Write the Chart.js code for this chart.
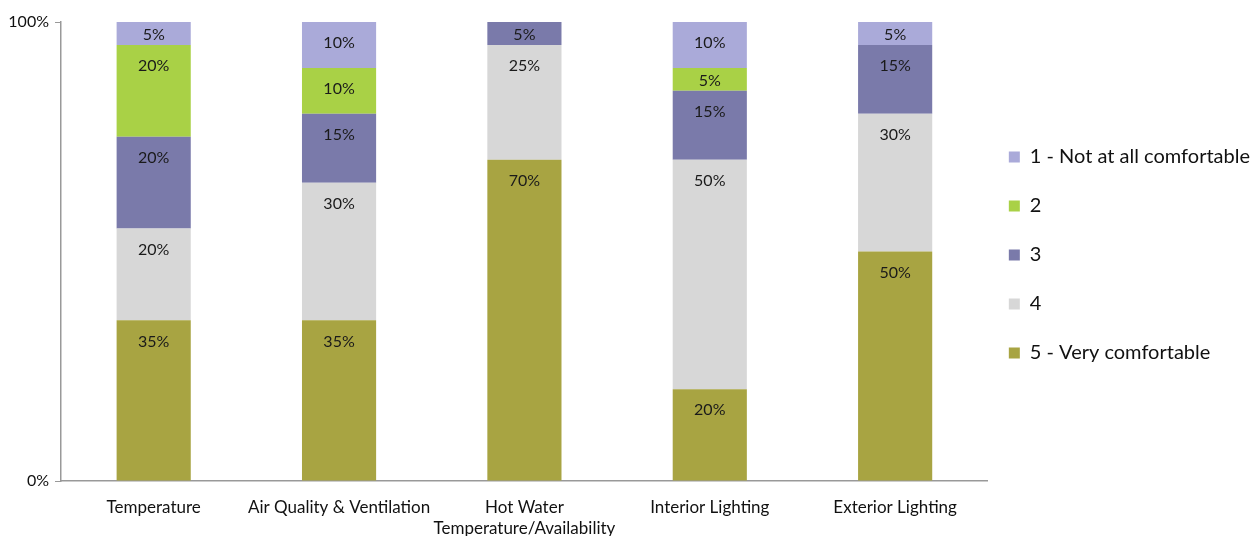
<!DOCTYPE html>
<html>
<head>
<meta charset="utf-8">
<script src="https://cdn.jsdelivr.net/npm/chart.js@4"></script>
<style>
  html, body { margin: 0; padding: 0; background: #fff; }
  #wrap { width: 1255px; height: 536px; }
</style>
</head>
<body>
<div id="wrap"><canvas id="chart" width="1255" height="536"></canvas></div>
<script>
// Chart data
const categories = ["Temperature", "Air Quality & Ventilation", ["Hot Water", "Temperature/Availability"], "Interior Lighting", "Exterior Lighting"];
const seriesNames = ["5 - Very comfortable", "4", "3", "2", "1 - Not at all comfortable"];
const very = [35, 35, 70, 20, 50];
const four = [20, 30, 25, 50, 30];
const three = [20, 15, 5, 15, 15];
const two = [20, 10, 0, 5, 0];
const notAtAll = [5, 10, 0, 10, 5];
const yTicks = [0, 100];

const colors = ["#a8a442", "#d7d7d7", "#7a7aaa", "#a9d146", "#aaaad9"];
const fontFamily = "Lato, 'Open Sans', sans-serif";

// Value labels drawn near the top of each segment
const segLabels = {
    id: "segLabels",
    afterDatasetsDraw(chart) {
        const ctx = chart.ctx;
        ctx.save();
        ctx.font = "16px " + fontFamily;
        ctx.fillStyle = "#1a1a1a";
        ctx.textAlign = "center";
        ctx.textBaseline = "middle";
        chart.data.datasets.forEach((ds, di) => {
            const meta = chart.getDatasetMeta(di);
            meta.data.forEach((bar, i) => {
                const v = ds.data[i];
                if (!v) return;
                const top = Math.min(bar.y, bar.base);
                const h = Math.abs(bar.base - bar.y);
                const y = Math.min(top + 21, top + h / 2 + 1);
                ctx.fillText(v + "%", bar.x, y);
            });
        });
        ctx.restore();
    }
};

// nudge the legend block up and left a bit
const legendShift = {
    id: "legendShift",
    afterLayout(chart) {
        const lg = chart.legend;
        lg.bottom -= 48;
        lg.left -= 8;
        lg.right -= 8;
    }
};

const ctx = document.getElementById("chart").getContext("2d");
const seriesData = [very, four, three, two, notAtAll];

new Chart(ctx, {
    type: "bar",
    data: {
        labels: categories,
        datasets: seriesData.map((d, i) => ({
            label: seriesNames[i],
            data: d,
            backgroundColor: colors[i],
            borderWidth: 0,
            categoryPercentage: 1,
            barPercentage: 0.4
        }))
    },
    options: {
        responsive: false,
        animation: false,
        layout: { padding: { top: 22, left: 0, right: -13, bottom: 0 } },
        plugins: {
            tooltip: { enabled: false },
            legend: {
                position: "right",
                reverse: true,
                labels: {
                    boxWidth: 11,
                    boxHeight: 11,
                    padding: 29,
                    color: "#111",
                    font: { family: fontFamily, size: 20 }
                }
            }
        },
        scales: {
            x: {
                stacked: true,
                grid: { display: false },
                border: { color: "#999", width: 1.5 },
                afterFit: axis => { axis.height = 55; },
                ticks: {
                    color: "#111",
                    font: { family: fontFamily, size: 17, lineHeight: 1.25 },
                    maxRotation: 0,
                    autoSkip: false,
                    padding: 8
                }
            },
            y: {
                stacked: true,
                min: 0,
                max: 100,
                afterBuildTicks: axis => { axis.ticks = yTicks.map(v => ({ value: v })); },
                afterFit: axis => { axis.width = 61; },
                grid: { drawOnChartArea: false, drawTicks: true, tickLength: 6, color: "#999" },
                border: { color: "#999", width: 1.5 },
                ticks: {
                    color: "#111",
                    font: { family: fontFamily, size: 16 },
                    padding: 6,
                    callback: v => v + "%"
                }
            }
        }
    },
    plugins: [segLabels, legendShift]
});
</script>
</body>
</html>
